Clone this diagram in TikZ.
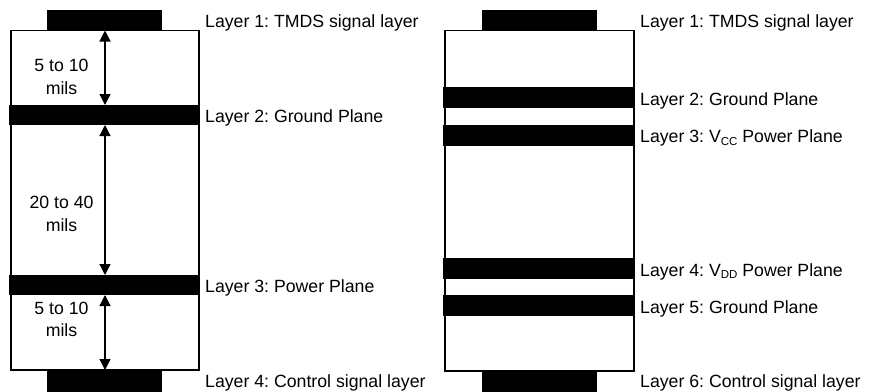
\documentclass[tikz,border=0pt]{standalone}
\usepackage{fontspec}
\setmainfont{Liberation Sans}
\usetikzlibrary{arrows.meta}
\frenchspacing
\newcommand{\subtxt}[1]{\raisebox{-0.3ex}{\fontsize{11.5}{11.5}\selectfont #1}}
\begin{document}
\begin{tikzpicture}[x=1pt,y=-1pt,
  outline/.style={draw=black,line width=1.6pt,fill=white,inner sep=0pt,outer sep=0pt},
  band/.style={fill=black,draw=none,inner sep=0pt,outer sep=0pt},
  dim/.style={line width=1.2pt,{Triangle[width=11pt,length=11pt]}-{Triangle[width=11pt,length=11pt]}},
  lab/.style={anchor=base west,inner sep=0pt,font=\fontsize{17.7}{20}\selectfont},
  dimlab/.style={align=center,inner sep=0pt,font=\fontsize{17.7}{22.5}\selectfont}]
\useasboundingbox (0,0) rectangle (875,391);
% ---------- left stack ----------
\node[outline,minimum width=188pt,minimum height=339.5pt] (boxA) at (105,200.25) {};
\node[band,minimum width=115pt,minimum height=21pt] (A1) at (104.5,20) {};
\node[band,minimum width=190.5pt,minimum height=20pt] (A2) at (104.25,115) {};
\node[band,minimum width=190.5pt,minimum height=20pt] (A3) at (104.25,285) {};
\node[band,minimum width=115pt,minimum height=21pt] (A4) at (104.5,381) {};
\coordinate (ax) at (105,0);
\draw[dim] (boxA.north -| ax) -- (A2.north -| ax);
\draw[dim] (A2.south -| ax) -- (A3.north -| ax);
\draw[dim] (A3.south -| ax) -- (boxA.south -| ax);
\node[dimlab] (d1) at (61.5,77) {5 to 10\\mils};
\node[dimlab] (d2) at (61.5,214) {20 to 40\\mils};
\node[dimlab] (d3) at (61.5,319.5) {5 to 10\\mils};
\node[lab] (tA1) at (205,27.5) {Layer 1: TMDS signal layer};
\node[lab] (tA2) at (205,122.5) {Layer 2: Ground Plane};
\node[lab] (tA3) at (205,292.5) {Layer 3: Power Plane};
\node[lab] (tA4) at (205,387.5) {Layer 4: Control signal layer};
% ---------- right stack ----------
\node[outline,minimum width=189pt,minimum height=340.5pt] (boxB) at (539.5,200.75) {};
\node[band,minimum width=115pt,minimum height=21pt] (B1) at (539.5,20) {};
\node[band,minimum width=191pt,minimum height=21pt] (B2) at (538.5,97.5) {};
\node[band,minimum width=191pt,minimum height=21pt] (B3) at (538.5,135) {};
\node[band,minimum width=191pt,minimum height=21pt] (B4) at (538.5,268.5) {};
\node[band,minimum width=191pt,minimum height=21pt] (B5) at (538.5,305.5) {};
\node[band,minimum width=115pt,minimum height=21pt] (B6) at (539.5,381.5) {};
\node[lab] (tB1) at (640,27.5) {Layer 1: TMDS signal layer};
\node[lab] (tB2) at (640,105) {Layer 2: Ground Plane};
\node[lab] (tB3) at (640,142.5) {Layer 3: V\subtxt{CC} Power Plane};
\node[lab] (tB4) at (640,276) {Layer 4: V\subtxt{DD} Power Plane};
\node[lab] (tB5) at (640,313) {Layer 5: Ground Plane};
\node[lab] (tB6) at (640,387.5) {Layer 6: Control signal layer};
\end{tikzpicture}
\end{document}
